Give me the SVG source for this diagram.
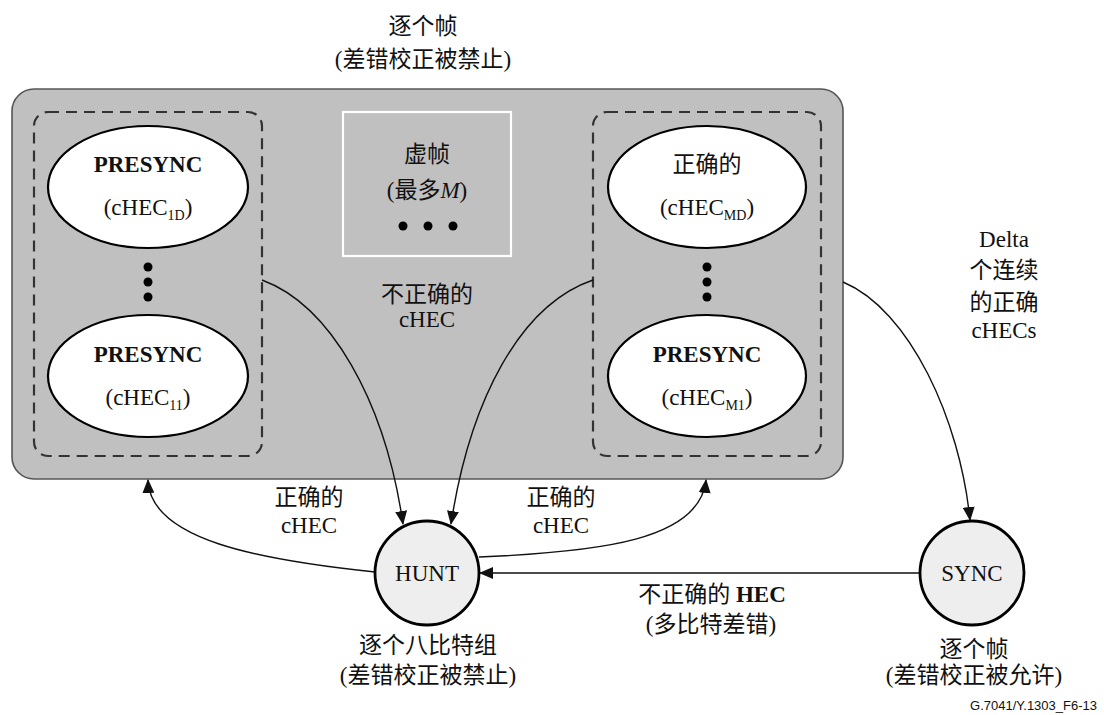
<svg xmlns="http://www.w3.org/2000/svg" width="1104" height="715" viewBox="0 0 1104 715">
<style>
text{font-family:"Liberation Serif","Noto Sans CJK SC",serif;font-size:23px;fill:#111;text-anchor:middle}
.b{font-weight:bold}
.sub{font-size:14px}
.st{fill:#fff;stroke:#000;stroke-width:2.2}
.dash{fill:none;stroke:#333;stroke-width:2.2;stroke-dasharray:11 7}
.circ{fill:#eeeeee;stroke:#000;stroke-width:2.8}
.dot{fill:#000}
.conn{fill:none;stroke:#111;stroke-width:1.4}
.ref{font-family:"Liberation Sans",sans-serif;font-size:13px;text-anchor:end}
</style>
<defs>
<marker id="ah" markerUnits="userSpaceOnUse" markerWidth="14" markerHeight="12" refX="13" refY="6" orient="auto">
<path d="M0,0 L14,6 L0,12 Z" fill="#111"/>
</marker>
</defs>
<rect width="1104" height="715" fill="#fff"/>
<text x="423" y="34">逐个帧</text>
<text x="423" y="67">(差错校正被禁止)</text>
<g id="frame">
<rect x="12" y="89" width="831" height="390" rx="22" fill="#c0c0c0" stroke="#555" stroke-width="1.6"/>
</g>
<g id="left-group">
<rect class="dash" x="34" y="112" width="228" height="344" rx="14"/>
<g id="presync-1d">
<ellipse class="st" cx="148" cy="187" rx="100" ry="61"/>
<text class="b" x="148" y="172">PRESYNC</text>
<text x="148" y="215">(cHEC<tspan class="sub" dy="5">1D</tspan><tspan dy="-5">)</tspan></text>
</g>
<circle class="dot" cx="148" cy="267" r="4.5"/>
<circle class="dot" cx="148" cy="282" r="4.5"/>
<circle class="dot" cx="148" cy="297" r="4.5"/>
<g id="presync-11">
<ellipse class="st" cx="148" cy="376" rx="100" ry="61"/>
<text class="b" x="148" y="362">PRESYNC</text>
<text x="148" y="405">(cHEC<tspan class="sub" dy="5">11</tspan><tspan dy="-5">)</tspan></text>
</g>
</g>
<g id="virtual-frame">
<rect x="343" y="112" width="168" height="144" fill="none" stroke="#fff" stroke-width="2.2"/>
<text x="427" y="162">虚帧</text>
<text x="427" y="198">(最多<tspan font-style="italic">M</tspan>)</text>
<circle class="dot" cx="403" cy="226" r="4.5"/>
<circle class="dot" cx="428" cy="226" r="4.5"/>
<circle class="dot" cx="453" cy="226" r="4.5"/>
</g>
<g id="right-group">
<rect class="dash" x="593" y="112" width="228" height="344" rx="14"/>
<g id="correct-md">
<ellipse class="st" cx="707" cy="187" rx="99" ry="61"/>
<text x="707" y="172">正确的</text>
<text x="707" y="215">(cHEC<tspan class="sub" dy="5">MD</tspan><tspan dy="-5">)</tspan></text>
</g>
<circle class="dot" cx="707" cy="267" r="4.5"/>
<circle class="dot" cx="707" cy="282" r="4.5"/>
<circle class="dot" cx="707" cy="297" r="4.5"/>
<g id="presync-m1">
<ellipse class="st" cx="707" cy="376" rx="99" ry="61"/>
<text class="b" x="707" y="362">PRESYNC</text>
<text x="707" y="405">(cHEC<tspan class="sub" dy="5">M1</tspan><tspan dy="-5">)</tspan></text>
</g>
</g>
<g id="connectors">
<path class="conn" d="M262,280 C330,305 385,400 403,524" marker-end="url(#ah)"/>
<path class="conn" d="M593,280 C520,305 470,400 451,524" marker-end="url(#ah)"/>
<path class="conn" d="M375,572 C260,560 150,540 148,480" marker-end="url(#ah)"/>
<path class="conn" d="M479,557 C600,552 700,540 706,480" marker-end="url(#ah)"/>
<path class="conn" d="M843,282 C910,310 960,420 970,520" marker-end="url(#ah)"/>
<path class="conn" d="M920,573 L480,573" marker-end="url(#ah)"/>
</g>
<g id="labels">
<text x="427" y="302">不正确的</text>
<text x="427" y="327">cHEC</text>
<text x="309" y="505">正确的</text>
<text x="309" y="533">cHEC</text>
<text x="561" y="505">正确的</text>
<text x="561" y="533">cHEC</text>
<text x="1004" y="247">Delta</text>
<text x="1004" y="278">个连续</text>
<text x="1004" y="310">的正确</text>
<text x="1004" y="338">cHECs</text>
<text x="712" y="602">不正确的 <tspan class="b">HEC</tspan></text>
<text x="711" y="632">(多比特差错)</text>
</g>
<g id="hunt">
<circle class="circ" cx="427" cy="573" r="52"/>
<text x="427" y="581">HUNT</text>
<text x="428" y="653">逐个八比特组</text>
<text x="428" y="683">(差错校正被禁止)</text>
</g>
<g id="sync">
<circle class="circ" cx="972" cy="573" r="52"/>
<text x="972" y="581">SYNC</text>
<text x="974" y="657">逐个帧</text>
<text x="974" y="683">(差错校正被允许)</text>
</g>
<text class="ref" x="1097" y="710">G.7041/Y.1303_F6-13</text>
</svg>
